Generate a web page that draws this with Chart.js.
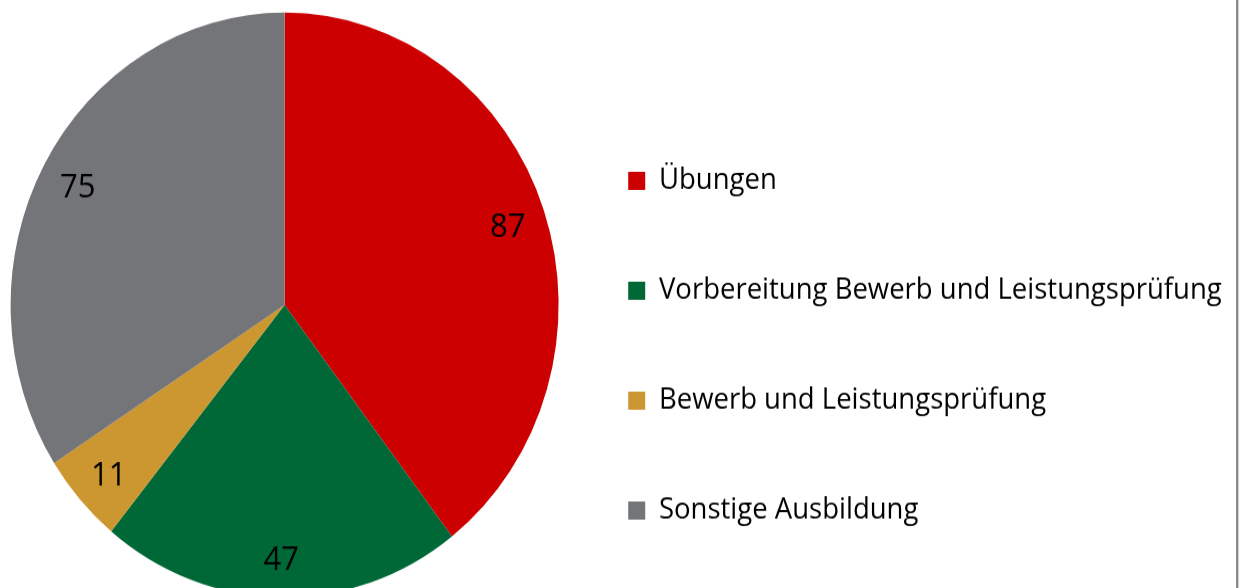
<!DOCTYPE html>
<html>
<head>
<meta charset="utf-8">
<script src="https://cdn.jsdelivr.net/npm/chart.js@4/dist/chart.umd.min.js"></script>
<style>
  html, body { margin: 0; padding: 0; background: #fff; overflow: hidden; width: 1243px; height: 588px; }
  #wrap { position: absolute; left: 0; top: 0; width: 1243px; height: 600px; transform: scaleY(1.067); transform-origin: 0 0; }
  #edge { position: absolute; left: 1236px; top: 0; width: 2px; height: 588px; background: #8a8a8a; border-right: 1px solid #cfcfcf; }
</style>
</head>
<body>
<div id="wrap"><canvas id="pie" width="1243" height="600"></canvas></div>
<div id="edge"></div>
<script>
const categories = ['Übungen', 'Vorbereitung Bewerb und Leistungsprüfung', 'Bewerb und Leistungsprüfung', 'Sonstige Ausbildung'];
const counts = [87, 47, 11, 75];
const colors = ['#cc0000', '#006837', '#cc9630', '#747578'];

// writes the value inside each slice, along the middle of the arc
const sliceLabels = {
  id: 'sliceLabels',
  afterDatasetsDraw(chart) {
    const ctx = chart.ctx;
    const meta = chart.getDatasetMeta(0);
    ctx.save();
    ctx.font = '31px "Open Sans"';
    ctx.fillStyle = '#000';
    ctx.textAlign = 'center';
    ctx.textBaseline = 'middle';
    meta.data.forEach((arc, i) => {
      const mid = (arc.startAngle + arc.endAngle) / 2;
      const r = arc.outerRadius * 0.86;
      ctx.fillText(String(counts[i]), arc.x + Math.cos(mid) * r, arc.y + Math.sin(mid) * r + 3.5);
    });
    ctx.restore();
  }
};

new Chart(document.getElementById('pie'), {
  type: 'pie',
  data: {
    labels: categories,
    datasets: [{
      data: counts,
      backgroundColor: colors,
      borderWidth: 0,
      hoverOffset: 0,
      radius: 274
    }]
  },
  options: {
    responsive: false,
    devicePixelRatio: 1,
    animation: false,
    layout: { padding: { left: 16.5, right: 11.25, top: 0, bottom: 28.4 } },
    plugins: {
      tooltip: { enabled: false },
      legend: {
        position: 'right',
        align: 'center',
        maxWidth: 1000,
        title: { display: true, text: ' ', font: { size: 12 }, padding: { top: 62, bottom: 0 } },
        labels: {
          boxWidth: 17,
          boxHeight: 17,
          padding: 75.5,
          color: '#000',
          font: { family: '"Open Sans"', size: 27.5 }
        }
      }
    }
  },
  plugins: [sliceLabels]
});
</script>
</body>
</html>
